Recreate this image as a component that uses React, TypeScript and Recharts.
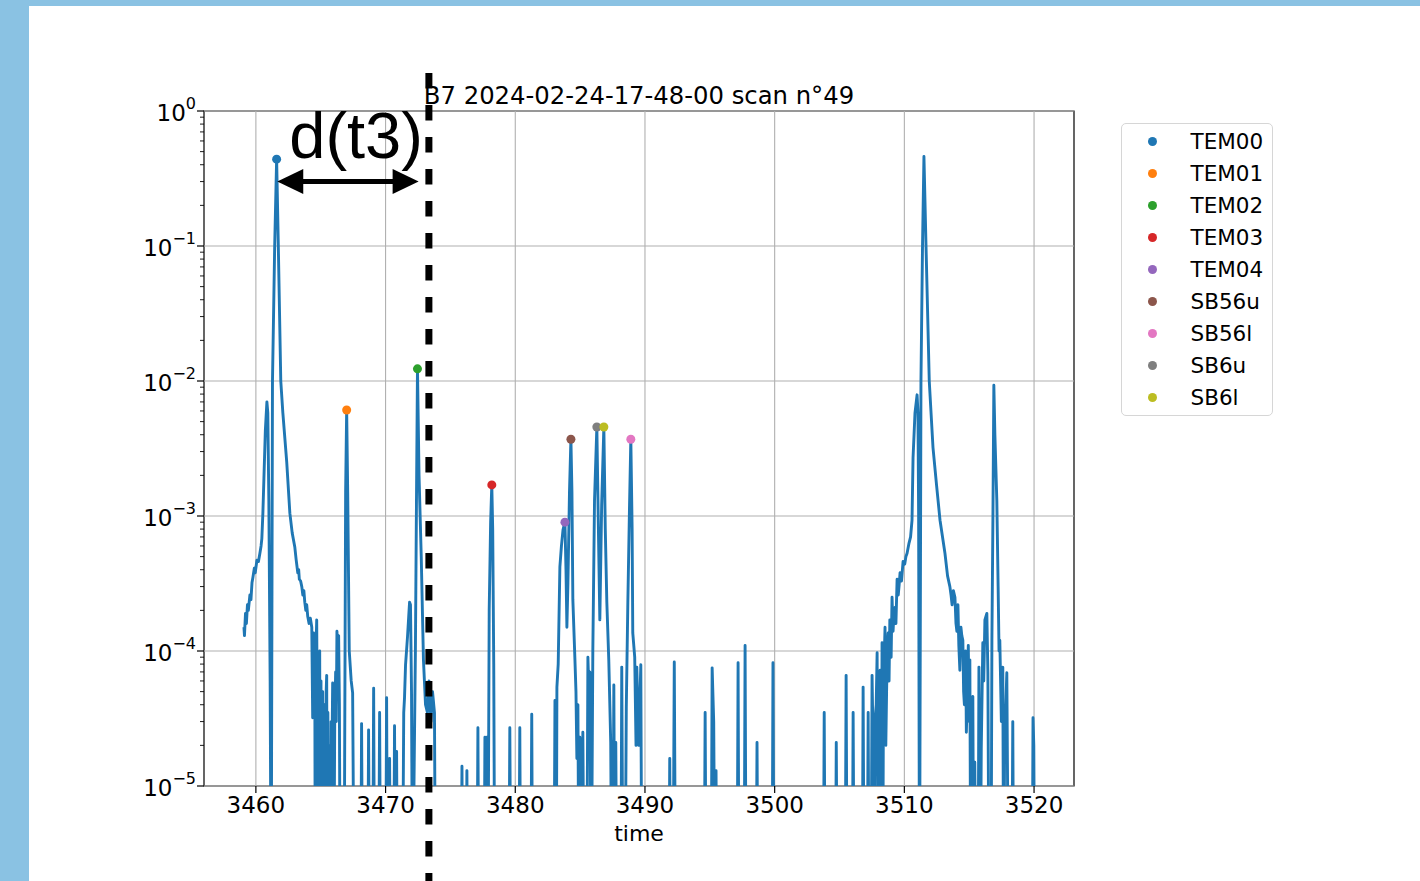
import React from "react";
import {
  ComposedChart,
  Line,
  Scatter,
  XAxis,
  YAxis,
  ReferenceLine,
  ReferenceArea,
  Legend,
} from "recharts";

// values under the 1e-5 floor; matplotlib clips them at the bottom spine
const LOW = 1e-6;

type Pt = [number, number];

// time, power
const TEM00_REGION: Pt[] = [
  [3459.08, 1.5e-4], [3459.12, 1.3e-4], [3459.2, 1.9e-4], [3459.27, 1.6e-4],
  [3459.35, 2.2e-4], [3459.42, 2.0e-4], [3459.54, 2.6e-4], [3459.62, 2.4e-4],
  [3459.7, 3.2e-4], [3459.77, 3.5e-4], [3459.88, 4.1e-4], [3459.95, 3.8e-4],
  [3460.08, 4.7e-4], [3460.2, 4.6e-4], [3460.31, 5.3e-4], [3460.4, 6.0e-4],
  [3460.46, 6.8e-4], [3460.54, 1.05e-3], [3460.62, 1.9e-3], [3460.73, 4.3e-3],
  [3460.85, 7.0e-3], [3460.92, 5.8e-3], [3461.0, 1.3e-3], [3461.1, 6e-5],
  [3461.18, LOW], [3461.28, 1.0e-2], [3461.45, 0.1], [3461.6, 0.44],
  [3461.73, 0.1], [3461.92, 1.0e-2], [3462.08, 5.8e-3], [3462.38, 2.5e-3],
  [3462.62, 1.05e-3], [3462.8, 7.5e-4], [3463.0, 5.9e-4], [3463.1, 4.8e-4],
  [3463.23, 3.8e-4], [3463.3, 4.0e-4], [3463.35, 3.4e-4], [3463.45, 3.3e-4],
  [3463.54, 3.0e-4], [3463.62, 2.6e-4], [3463.7, 2.8e-4], [3463.77, 2.3e-4],
  [3463.85, 2.0e-4], [3463.92, 2.2e-4], [3464.0, 1.8e-4], [3464.1, 1.6e-4],
  [3464.2, 1.75e-4], [3464.31, 1.5e-4],
];

const LEFT_NOISE: Pt[] = [
  [3464.38, 3.2e-5], [3464.45, 1.36e-4], [3464.5, 4e-5], [3464.54, 1.1e-4],
  [3464.58, LOW], [3464.62, 9e-5], [3464.69, 1.7e-4], [3464.73, 3e-5],
  [3464.77, LOW], [3464.81, 8e-5], [3464.85, 2e-5], [3464.92, 1.0e-4],
  [3464.97, LOW], [3465.02, 6e-5], [3465.08, LOW], [3465.15, 5e-5],
  [3465.2, LOW], [3465.3, 4e-5], [3465.36, LOW], [3465.42, 5e-5],
  [3465.46, 6.6e-5], [3465.5, LOW], [3465.55, 3.5e-5], [3465.62, LOW],
  [3465.7, 2e-5], [3465.75, LOW], [3465.8, 3e-5], [3465.86, 1.5e-5],
  [3465.92, 5.8e-5], [3466.0, LOW], [3466.08, 3e-5], [3466.15, 7e-5],
  [3466.2, 3e-5], [3466.25, 1.4e-4], [3466.32, 1.0e-4], [3466.38, 1.3e-4],
  [3466.44, 4e-5], [3466.5, LOW], [3466.8, LOW], [3466.92, 1.5e-3],
  [3467.0, 6.1e-3], [3467.08, 1.5e-3], [3467.2, 1.0e-4], [3467.35, 6e-5],
  [3467.46, 4.9e-5], [3467.58, LOW], [3468.08, LOW], [3468.15, 2.9e-5],
  [3468.23, LOW], [3468.62, LOW], [3468.69, 2.6e-5], [3468.77, LOW],
  [3469.0, LOW], [3469.08, 5.3e-5], [3469.15, LOW], [3469.46, LOW],
  [3469.54, 3.5e-5], [3469.62, LOW], [3470.0, LOW], [3470.08, 4.5e-5],
  [3470.15, LOW], [3470.25, LOW], [3470.31, 1.6e-5], [3470.38, LOW],
  [3470.62, LOW], [3470.69, 2.8e-5], [3470.77, LOW], [3470.8, LOW],
  [3470.85, 1.8e-5], [3470.92, LOW], [3471.3, LOW], [3471.4, 3.5e-5],
  [3471.46, 4.5e-5], [3471.54, 7.9e-5], [3471.69, 1.27e-4], [3471.85, 2.3e-4],
  [3471.92, 2.2e-4], [3472.0, 5e-5], [3472.08, LOW], [3472.3, 1.0e-4],
  [3472.38, 1.2e-3], [3472.46, 1.23e-2], [3472.58, 2.0e-3], [3472.75, 5.0e-4],
  [3472.92, 8.6e-5], [3473.08, 4e-5], [3473.23, 3.5e-5], [3473.35, 6e-5],
  [3473.5, 3e-5], [3473.62, 5e-5], [3473.77, 3.5e-5], [3473.85, LOW],
];

const MIDDLE_REGION: Pt[] = [
  [3475.82, LOW], [3475.89, 1.4e-5], [3475.96, LOW],
  [3476.2, LOW], [3476.27, 1.3e-5], [3476.34, LOW],
  [3477.04, LOW], [3477.12, 2.7e-5], [3477.19, LOW],
  [3477.59, LOW], [3477.66, 2.3e-5], [3477.72, LOW],
  [3477.76, LOW], [3477.81, 2.3e-5], [3477.89, LOW],
  [3477.99, 2.0e-4], [3478.1, 9.0e-4], [3478.19, 1.7e-3], [3478.26, 8.0e-4],
  [3478.34, 8.0e-5], [3478.42, LOW],
  [3479.5, LOW], [3479.58, 2.7e-5], [3479.66, LOW],
  [3480.27, LOW], [3480.35, 2.7e-5], [3480.42, LOW],
  [3481.19, LOW], [3481.27, 3.4e-5], [3481.34, LOW],
  [3482.98, LOW], [3483.06, 4.3e-5], [3483.13, LOW],
  [3483.16, LOW], [3483.21, 5.4e-5], [3483.31, 8.0e-5], [3483.44, 4.2e-4],
  [3483.56, 6.0e-4], [3483.68, 7.9e-4], [3483.83, 9.0e-4], [3483.91, 4.0e-4],
  [3483.98, 1.5e-4], [3484.06, 3.2e-4], [3484.18, 1.5e-3], [3484.29, 3.7e-3],
  [3484.37, 1.5e-3], [3484.44, 2.4e-4], [3484.6, 8.6e-5], [3484.68, 5.0e-5],
  [3484.75, 1.6e-5], [3484.83, 4.0e-5], [3484.91, LOW], [3484.98, 2.3e-5],
  [3485.06, LOW], [3485.21, 2.5e-5], [3485.31, LOW],
  [3485.51, LOW], [3485.6, 9.0e-5], [3485.68, 4.9e-5], [3485.75, 7.0e-5],
  [3485.86, LOW], [3485.98, 1.0e-4], [3486.11, 1.3e-3], [3486.29, 4.56e-3],
  [3486.41, 8.0e-4], [3486.52, 1.7e-4], [3486.66, 1.2e-3], [3486.83, 4.56e-3],
  [3486.94, 8.0e-4], [3487.06, 2.3e-4], [3487.21, 8.6e-5], [3487.36, 2.1e-5],
  [3487.44, LOW], [3487.52, LOW], [3487.6, 5.6e-5], [3487.68, LOW],
  [3487.75, 2.1e-5], [3487.83, LOW],
  [3488.14, LOW], [3488.21, 7.6e-5], [3488.31, LOW], [3488.46, LOW],
  [3488.56, 3.8e-5], [3488.68, 2.3e-4], [3488.81, 1.2e-3], [3488.91, 3.7e-3],
  [3489.01, 8.0e-4], [3489.06, 1.36e-4], [3489.21, 9.0e-5], [3489.31, 2.0e-5],
  [3489.37, 7.6e-5], [3489.52, 2.0e-5], [3489.68, 7.9e-5], [3489.76, LOW],
  [3491.84, LOW], [3491.91, 1.6e-5], [3491.98, LOW],
  [3492.16, LOW], [3492.26, 8.3e-5], [3492.36, LOW],
];

const RIGHT_REGION: Pt[] = [
  [3494.56, LOW], [3494.64, 3.5e-5], [3494.72, LOW],
  [3495.1, LOW], [3495.18, 7.5e-5], [3495.3, 3e-5], [3495.4, LOW],
  [3495.45, LOW], [3495.48, 1.3e-5], [3495.55, LOW],
  [3497.1, LOW], [3497.18, 8.2e-5], [3497.25, LOW],
  [3497.64, LOW], [3497.72, 1.1e-4], [3497.8, LOW],
  [3498.56, LOW], [3498.64, 2.1e-5], [3498.72, LOW],
  [3499.8, LOW], [3499.87, 8.2e-5], [3499.95, LOW],
  [3503.75, LOW], [3503.82, 3.5e-5], [3503.9, LOW],
  [3504.68, LOW], [3504.75, 2.1e-5], [3504.83, LOW],
  [3505.43, LOW], [3505.51, 6.6e-5], [3505.59, LOW],
  [3505.98, LOW], [3506.05, 3.5e-5], [3506.13, LOW],
  [3506.75, LOW], [3506.82, 5.4e-5], [3506.9, LOW],
  [3507.13, LOW], [3507.21, 3.5e-5], [3507.28, LOW],
  [3507.43, LOW], [3507.51, 6.6e-5], [3507.59, 2e-5], [3507.66, LOW],
  [3507.73, 3e-5], [3507.83, 4e-5], [3507.9, 9.7e-5], [3507.98, LOW],
  [3508.05, 5e-5], [3508.13, 7.2e-5], [3508.21, LOW], [3508.28, 1.15e-4],
  [3508.33, LOW], [3508.38, 3e-5], [3508.45, 9e-5], [3508.51, 1.5e-4],
  [3508.57, 2e-5], [3508.63, 5e-5], [3508.7, 1.1e-4], [3508.75, 1.36e-4],
  [3508.82, 6e-5], [3508.88, 1.7e-4], [3508.98, 9e-5], [3509.05, 2.5e-4],
  [3509.13, 1.4e-4], [3509.2, 1.9e-4], [3509.28, 2.1e-4], [3509.35, 1.6e-4],
  [3509.44, 3.4e-4], [3509.53, 2.6e-4], [3509.6, 3.1e-4], [3509.67, 3.8e-4],
  [3509.78, 3.3e-4], [3509.9, 4.6e-4], [3510.03, 4.4e-4], [3510.12, 5.0e-4],
  [3510.21, 5.3e-4], [3510.36, 6.3e-4], [3510.48, 7.0e-4], [3510.59, 9.3e-4],
  [3510.67, 2.7e-3], [3510.82, 5.8e-3], [3510.98, 7.9e-3], [3511.05, 5.8e-3],
  [3511.1, 1.0e-3], [3511.17, LOW], [3511.28, 1.0e-2], [3511.4, 0.1],
  [3511.51, 0.46], [3511.67, 0.1], [3511.92, 1.0e-2], [3512.21, 3.2e-3],
  [3512.48, 1.7e-3], [3512.75, 9.3e-4], [3513.13, 5.3e-4], [3513.33, 3.6e-4],
  [3513.51, 3.0e-4], [3513.6, 2.6e-4], [3513.68, 2.2e-4], [3513.78, 2.8e-4],
  [3513.9, 2.5e-4], [3513.98, 1.6e-4], [3514.05, 1.4e-4], [3514.13, 2.2e-4],
  [3514.2, 1.1e-4], [3514.28, 7.2e-5], [3514.36, 1.5e-4], [3514.43, 1.3e-4],
  [3514.51, 1.2e-4], [3514.57, 5e-5], [3514.63, 4e-5], [3514.73, 1.0e-4],
  [3514.78, 2.5e-5], [3514.82, 3.5e-5], [3514.93, 1.1e-4], [3515.0, 3e-5],
  [3515.05, 8.6e-5], [3515.12, LOW], [3515.18, 2e-5], [3515.28, 4.6e-5],
  [3515.35, LOW], [3515.43, 1.5e-5], [3515.51, LOW], [3515.68, LOW],
  [3515.75, 7.6e-5], [3515.85, LOW], [3515.93, 1.9e-5], [3516.05, 1.15e-4],
  [3516.12, 6e-5], [3516.21, 1.7e-4], [3516.36, 1.9e-4], [3516.44, 6.9e-5],
  [3516.53, LOW], [3516.68, LOW], [3516.75, 1.2e-4], [3516.83, 1.0e-3],
  [3516.9, 9.3e-3], [3516.98, 4.0e-3], [3517.13, 1.3e-3], [3517.23, 3.0e-4],
  [3517.3, 1.0e-4], [3517.36, 1.2e-4], [3517.48, 3e-5], [3517.59, 7.6e-5],
  [3517.66, LOW], [3517.73, 2e-5], [3517.9, 6.9e-5], [3518.03, LOW],
  [3518.28, LOW], [3518.36, 3.0e-5], [3518.43, LOW],
  [3519.85, LOW], [3519.92, 3.2e-5], [3519.98, 2.0e-5], [3520.05, LOW],
];

const spectrum = [...TEM00_REGION, ...LEFT_NOISE, ...MIDDLE_REGION, ...RIGHT_REGION].map(
  ([t, v]) => ({ t, v })
);

// picked modes
const MODE_NAMES = ["TEM00", "TEM01", "TEM02", "TEM03", "TEM04", "SB56u", "SB56l", "SB6u", "SB6l"];
const MODE_COLORS = ["#1f77b4", "#ff7f0e", "#2ca02c", "#d62728", "#9467bd", "#8c564b", "#e377c2", "#7f7f7f", "#bcbd22"];
const MODE_TIMES = [3461.6, 3467.0, 3472.46, 3478.19, 3483.83, 3484.29, 3488.91, 3486.29, 3486.83];
const MODE_VALUES = [0.44, 6.1e-3, 1.23e-2, 1.7e-3, 9.0e-4, 3.7e-3, 3.7e-3, 4.56e-3, 4.56e-3];

const X_TICKS = [3460, 3470, 3480, 3490, 3500, 3510, 3520];
const X_DOMAIN = [3456, 3523.08];
const Y_EXPONENTS = [0, -1, -2, -3, -4, -5];
const MINOR_STEPS = [2, 3, 4, 5, 6, 7, 8, 9];

// annotation: cursor line and the d(t3) arrow
const CURSOR_T = 3473.34;
const ARROW_FROM = 3461.65;
const ARROW_TO = 3472.55;
const ARROW_LEVEL = 0.3;

const Y_MAJOR = Y_EXPONENTS.map((e) => Number(`1e${e}`));
const Y_TICKS = [
  ...Y_MAJOR,
  ...Y_EXPONENTS.filter((e) => e < 0).flatMap((e) => MINOR_STEPS.map((m) => Number(`${m}e${e}`))),
];

const FONT = "DejaVu Sans";

const W = 1420;
const H = 881;
const PLOT_LEFT = 204;
const PLOT_TOP = 111;
const PLOT_RIGHT = 1074;
const PLOT_BOTTOM = 786;
const X_AXIS_H = 60;
const Y_AXIS_W = 80;

function XTick(props: any) {
  const { x, y, payload } = props;
  return (
    <g>
      <line x1={x} x2={x} y1={y} y2={y + 7} stroke="#000" strokeWidth={1.2} />
      <text x={x} y={y + 27} textAnchor="middle" fontFamily={FONT} fontSize={23} fill="#000">
        {payload.value}
      </text>
    </g>
  );
}

function YTick(props: any) {
  const { x, y, payload } = props;
  const lg = Math.log10(payload.value);
  const e = Math.round(lg);
  const major = Math.abs(lg - e) < 1e-6;
  return (
    <g>
      <line x1={x - (major ? 7 : 4)} x2={x} y1={y} y2={y} stroke="#000" strokeWidth={major ? 1.2 : 0.9} />
      {major && (
        <text x={x - 8} y={y + 10} textAnchor="end" fontFamily={FONT} fontSize={23} fill="#000">
          10
          <tspan dy={-12} fontSize={16}>
            {e === 0 ? "0" : "\u2212" + Math.abs(e)}
          </tspan>
        </text>
      )}
    </g>
  );
}

function ArrowShape(props: any) {
  const { x1, y1, x2, y2 } = props;
  const head = 26;
  const half = 12.5;
  return (
    <g>
      <line x1={x1 + head - 2} y1={y1} x2={x2 - head + 2} y2={y2} stroke="#000" strokeWidth={5} />
      <polygon points={`${x1},${y1} ${x1 + head},${y1 - half} ${x1 + head},${y1 + half}`} fill="#000" />
      <polygon points={`${x2},${y2} ${x2 - head},${y2 - half} ${x2 - head},${y2 + half}`} fill="#000" />
      <text x={x1 + 12} y={y1 - 24} fontFamily="Liberation Sans" fontSize={65} fill="#000">
        d(t3)
      </text>
    </g>
  );
}

function LegendBox() {
  return (
    <div
      style={{
        position: "relative",
        width: 152,
        height: 293,
        boxSizing: "border-box",
        border: "1.3px solid #d6d6d6",
        borderRadius: 5,
        background: "rgba(255,255,255,0.8)",
        fontFamily: FONT,
        fontSize: 21.5,
        color: "#000",
      }}
    >
      {MODE_NAMES.map((name, i) => (
        <div
          key={name}
          style={{
            position: "absolute",
            left: 0,
            top: 1 + i * 32,
            height: 32,
            display: "flex",
            alignItems: "center",
            whiteSpace: "nowrap",
          }}
        >
          <span
            style={{
              display: "inline-block",
              width: 9,
              height: 9,
              borderRadius: "50%",
              background: MODE_COLORS[i],
              marginLeft: 25.5,
            }}
          />
          <span style={{ marginLeft: 34 }}>{name}</span>
        </div>
      ))}
    </div>
  );
}

export default function App() {
  return (
    <div
      style={{
        position: "absolute",
        left: 0,
        top: 0,
        width: W,
        height: H,
        background: "#8ac2e3",
        overflow: "hidden",
      }}
    >
      <div style={{ position: "absolute", left: 29, top: 6, right: 0, bottom: 0, background: "#fff" }} />
      <div style={{ position: "absolute", left: 0, top: 0 }}>
        <ComposedChart
          width={W}
          height={H}
          margin={{
            top: PLOT_TOP,
            right: W - PLOT_RIGHT,
            bottom: H - PLOT_BOTTOM - X_AXIS_H,
            left: PLOT_LEFT - Y_AXIS_W,
          }}
        >
          <XAxis
            type="number"
            dataKey="t"
            domain={X_DOMAIN}
            allowDataOverflow
            ticks={X_TICKS}
            interval={0}
            tick={<XTick />}
            tickLine={false}
            tickSize={0}
            tickMargin={0}
            axisLine={false}
            height={X_AXIS_H}
          />
          <YAxis
            type="number"
            dataKey="v"
            scale="log"
            domain={[1e-5, 1]}
            allowDataOverflow
            ticks={Y_TICKS}
            interval={0}
            tick={<YTick />}
            tickLine={false}
            tickSize={0}
            tickMargin={0}
            axisLine={false}
            width={Y_AXIS_W}
          />
          {X_TICKS.map((t) => (
            <ReferenceLine key={`gx${t}`} x={t} stroke="#b0b0b0" strokeWidth={1.1} />
          ))}
          {Y_MAJOR.map((v) => (
            <ReferenceLine key={`gy${v}`} y={v} stroke="#b0b0b0" strokeWidth={1.1} />
          ))}
          <Line
            data={spectrum}
            dataKey="v"
            type="linear"
            stroke="#1f77b4"
            strokeWidth={2.9}
            strokeLinejoin="round"
            dot={false}
            isAnimationActive={false}
          />
          {MODE_NAMES.map((name, i) => (
            <Scatter
              key={name}
              name={name}
              data={[{ t: MODE_TIMES[i], v: MODE_VALUES[i] }]}
              dataKey="v"
              fill={MODE_COLORS[i]}
              isAnimationActive={false}
              shape={(p: any) => <circle cx={p.cx} cy={p.cy} r={4.5} fill={MODE_COLORS[i]} />}
            />
          ))}
          <ReferenceArea
            x1={X_DOMAIN[0]}
            x2={X_DOMAIN[1]}
            y1={1e-5}
            y2={1}
            fill="none"
            stroke="#000"
            strokeWidth={1.2}
          />
          <ReferenceLine
            segment={[
              { x: ARROW_FROM, y: ARROW_LEVEL },
              { x: ARROW_TO, y: ARROW_LEVEL },
            ]}
            ifOverflow="visible"
            shape={ArrowShape}
          />
          <ReferenceLine
            segment={[
              { x: CURSOR_T, y: 1.91 },
              { x: CURSOR_T, y: 1e-6 },
            ]}
            ifOverflow="visible"
            stroke="#000"
            strokeWidth={7}
            strokeDasharray="15.5 16.5"
          />
          <Legend
            layout="vertical"
            align="center"
            verticalAlign="middle"
            content={<LegendBox />}
            wrapperStyle={{ left: 1121, top: 123, width: 152, height: 293 }}
          />
        </ComposedChart>
      </div>
      <svg
        width={W}
        height={H}
        style={{ position: "absolute", left: 0, top: 0, pointerEvents: "none" }}
      >
        <text
          x={(PLOT_LEFT + PLOT_RIGHT) / 2}
          y={104}
          textAnchor="middle"
          fontFamily={FONT}
          fontSize={24.3}
          fill="#000"
        >
          B7 2024-02-24-17-48-00 scan n°49
        </text>
        <text
          x={(PLOT_LEFT + PLOT_RIGHT) / 2}
          y={841}
          textAnchor="middle"
          fontFamily={FONT}
          fontSize={22}
          fill="#000"
        >
          time
        </text>
      </svg>
    </div>
  );
}
